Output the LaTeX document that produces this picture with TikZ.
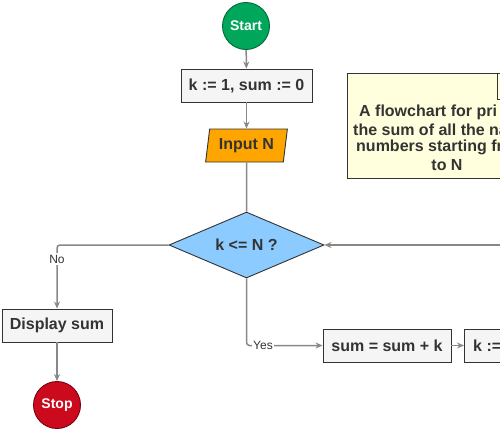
\documentclass[tikz,border=0pt]{standalone}
\usepackage{fontspec}
\setmainfont{Liberation Sans}
\usetikzlibrary{shapes.geometric,arrows.meta}
\definecolor{txt}{HTML}{333333}
\definecolor{edge}{HTML}{888888}
\definecolor{boxfill}{HTML}{F5F5F5}
\definecolor{startg}{HTML}{00A65A}
\definecolor{startb}{HTML}{006B38}
\definecolor{stopr}{HTML}{CC0A1E}
\definecolor{stopb}{HTML}{7A0010}
\definecolor{inorange}{HTML}{FFA500}
\definecolor{decblue}{HTML}{8CCBFF}
\definecolor{notey}{HTML}{FFFFDD}
\tikzset{
  every node/.style={font=\fontsize{16}{17.6}\selectfont\bfseries, text=txt, inner sep=0pt},
  procbox/.style={draw=txt, fill=boxfill, line width=0.9pt, rectangle},
  term/.style={circle, draw, line width=0.9pt, minimum size=47pt, text=white, font=\fontsize{14}{16}\selectfont\bfseries},
  conn/.style={draw=edge, line width=1.5pt, rounded corners=3pt, -{Stealth[length=7pt,width=6pt]}},
  plain/.style={draw=edge, line width=1.5pt, rounded corners=3pt},
  elabel/.style={fill=white, inner sep=1.5pt, font=\fontsize{12}{14}\selectfont, text=txt},
}
\begin{document}
\begin{tikzpicture}[x=1pt,y=-1pt]
\useasboundingbox (0,0) rectangle (500,431);
\clip (0,0) rectangle (500,431);
\fill[white] (0,0) rectangle (500,431);

% note
\path[draw=txt, fill=notey, line width=0.9pt] (347,73) rectangle (560,178);
\draw[txt, line width=0.9pt] (497,73) -- (497,99) -- (560,99);
\node[anchor=west] (n1) at (359,112) {A flowchart for pri};
\node[anchor=west] (n2) at (353,130) {the sum of all the na};
\node[anchor=west] (n3) at (356,147.5) {numbers starting fr};
\node (n4) at (447,165) {to N};

% nodes
\node[term, fill=startg, draw=startb] (start) at (246,26) {Start};
\node[procbox, minimum width=131pt, minimum height=33pt] (init) at (246.5,85.5) {k := 1, sum := 0};
\node[trapezium, trapezium left angle=78, trapezium right angle=102, draw=txt, fill=inorange, line width=0.9pt,
      minimum width=82pt, minimum height=33pt, trapezium stretches=true] (input) at (246.5,145.5) {Input N};
\node[diamond, draw=txt, fill=decblue, line width=0.9pt, minimum width=155pt, minimum height=66pt, aspect=2.35] (dec) at (246.5,245) {k <= N ?};
\node[procbox, minimum width=110pt, minimum height=33pt] (disp) at (57,325.5) {Display sum};
\node[term, fill=stopr, draw=stopb] (stop) at (57,405) {Stop};
\node[procbox, minimum width=128pt, minimum height=33pt] (sum) at (387,345.5) {sum = sum + k};
\node[procbox, minimum width=100pt, minimum height=33pt, anchor=west] (inc) at (464,345.5) {};
\node[anchor=west] (inct) at (473,345.5) {k :=};
\coordinate (ret) at (560,245);

% connectors
\draw[conn] (start) -- (init);
\draw[conn] (init) -- (input);
\draw[plain] (input) -- (dec.north);
\draw[conn] (dec.west) -- (57,245) -- (disp.north);
\draw[conn] (disp) -- (stop);
\draw[conn] (dec.south) -- (246.5,345.5) -- (sum.west);
\draw[conn] (sum) -- (inc);
\draw[conn] (ret) -- (dec.east);
\node[elabel] (no) at (57,259) {No};
\node[elabel] (yes) at (263,345.5) {Yes};
\end{tikzpicture}
\end{document}
